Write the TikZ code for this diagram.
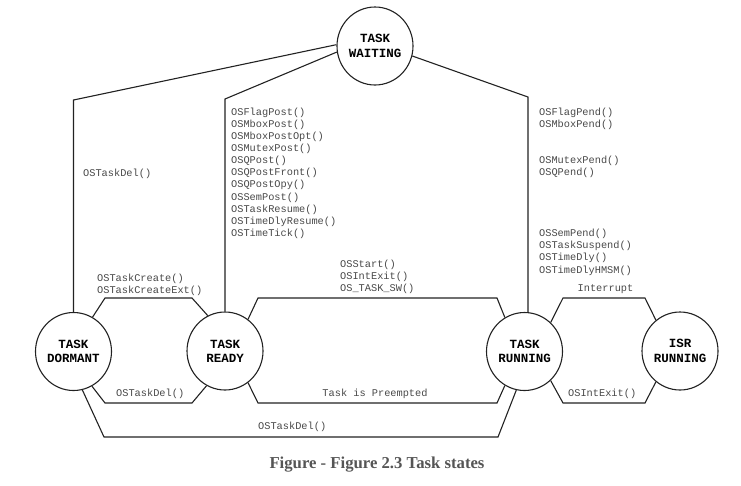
\documentclass[tikz,border=0pt]{standalone}
\usepackage{fontspec}
\setmainfont{Liberation Serif}
\setmonofont{Liberation Mono}
\definecolor{linegray}{HTML}{222222}
\definecolor{callgray}{HTML}{484848}
\definecolor{capgray}{HTML}{555555}
\usetikzlibrary{shapes.geometric}
\tikzset{
  statenode/.style={ellipse, draw=linegray, line width=1.1pt, minimum width=76pt, minimum height=78pt,
    inner sep=0pt, align=center, font=\ttfamily\bfseries\fontsize{12.5}{14.3}\selectfont},
  callname/.style={anchor=base west, inner sep=0pt, text=callgray, font=\ttfamily\fontsize{10.3}{12.2}\selectfont},
  link/.style={draw=linegray, line width=1.1pt},
}

\begin{document}
\begin{tikzpicture}[x=1pt, y=-1pt]
  \useasboundingbox (0,0) rectangle (741,485);

  % States
  \node[statenode] (wait) at (375,46) {TASK\\WAITING};
  \node[statenode] (dorm) at (73.5,351.5) {TASK\\DORMANT};
  \node[statenode] (ready) at (225,351) {TASK\\READY};
  \node[statenode] (run) at (524.5,351.5) {TASK\\RUNNING};
  \node[statenode] (isr) at (680,351) {ISR\\RUNNING};

  % Into and out of the waiting state
  \draw[link] (dorm.north) -- (dorm.north |- 0,100) -- (wait.178);
  \draw[link] (ready.north) -- (ready.north |- 0,99) -- (wait.189);
  \draw[link] (wait.-15) -- (run.85 |- 0,97) -- (run.85);

  % Upper transitions
  \draw[link] (dorm.61) -- (105,298) -- (192,298) -- (ready.116);
  \draw[link] (ready.54) -- (258,298) -- (497,298) -- (run.120);
  \draw[link] (run.48) -- (563,298) -- (645,298) -- (isr.128);

  % Lower transitions
  \draw[link] (ready.242) -- (192,403) -- (105,403) -- (dorm.298);
  \draw[link] (run.240) -- (497,403) -- (258,403) -- (ready.306);
  \draw[link] (isr.232) -- (645,403) -- (563,403) -- (run.312);
  \draw[link] (dorm.283) -- (104,437) -- (498,437) -- (run.258);

  % Labels
  \node[callname] (delwait) at (83,176.5) {OSTaskDel()};
  \foreach \fn [count=\i from 0] in {OSFlagPost(), OSMboxPost(), OSMboxPostOpt(), OSMutexPost(),
      OSQPost(), OSQPostFront(), OSQPostOpy(), OSSemPost(), OSTaskResume(), OSTimeDlyResume(), OSTimeTick()}
    \node[callname] (post\i) at (231,115+12.16*\i) {\fn};
  \foreach \k/\fn in {0/OSFlagPend(), 1/OSMboxPend(), 4/OSMutexPend(), 5/OSQPend(),
      10/OSSemPend(), 11/OSTaskSuspend(), 12/OSTimeDly(), 13/OSTimeDlyHMSM()}
    \node[callname] (pend\k) at (539,115+12.16*\k) {\fn};

  \node[callname] (create) at (97,281.5) {OSTaskCreate()};
  \node[callname] (createext) at (97,293.9) {OSTaskCreateExt()};
  \node[callname] (start) at (340,267) {OSStart()};
  \node[callname] (intexit) at (340,279.2) {OSIntExit()};
  \node[callname] (tasksw) at (340,291.4) {OS\_TASK\_SW()};
  \node[callname, anchor=base] (irq) at (605.5,291) {Interrupt};

  \node[callname] (delready) at (116,396) {OSTaskDel()};
  \node[callname, anchor=base] (preempt) at (375,396) {Task is Preempted};
  \node[callname] (isrexit) at (568,396) {OSIntExit()};
  \node[callname] (delrun) at (258,429) {OSTaskDel()};

  % Caption
  \node[anchor=base, inner sep=0pt, text=capgray, font=\bfseries\fontsize{16.7}{20}\selectfont] (caption)
    at (377,468) {Figure - Figure 2.3 Task states};
\end{tikzpicture}
\end{document}
